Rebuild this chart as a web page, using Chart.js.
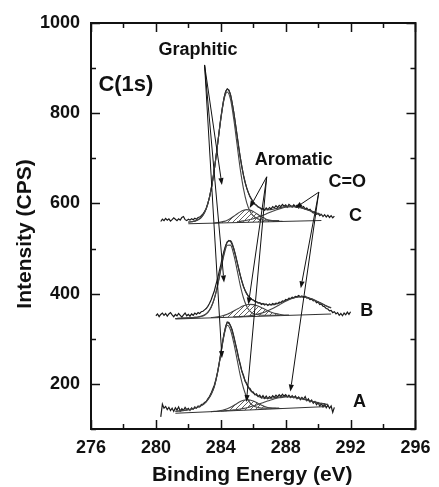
<!DOCTYPE html>
<html>
<head>
<meta charset="utf-8">
<script src="https://cdn.jsdelivr.net/npm/chart.js@4.4.1/dist/chart.umd.min.js"></script>
<style>
  html, body { margin: 0; padding: 0; background: #fff; }
  canvas { display: block; }
</style>
</head>
<body>
<canvas id="xps" width="439" height="487"></canvas>
<script>
// ---- measured C(1s) spectra (binding energy in eV, intensity in CPS) ----
const rawEnergy = [
  280.0,280.1,280.2,280.3,280.4,280.5,280.6,280.7,280.8,280.9,
  281.0,281.1,281.2,281.3,281.4,281.5,281.6,281.7,281.8,281.9,
  282.0,282.1,282.2,282.3,282.4,282.5,282.6,282.7,282.8,282.9,
  283.0,283.1,283.2,283.3,283.4,283.5,283.6,283.7,283.8,283.9,
  284.0,284.1,284.2,284.3,284.4,284.5,284.6,284.7,284.8,284.9,
  285.0,285.1,285.2,285.3,285.4,285.5,285.6,285.7,285.8,285.9,
  286.0,286.1,286.2,286.3,286.4,286.5,286.6,286.7,286.8,286.9,
  287.0,287.1,287.2,287.3,287.4,287.5,287.6,287.7,287.8,287.9,
  288.0,288.1,288.2,288.3,288.4,288.5,288.6,288.7,288.8,288.9,
  289.0,289.1,289.2,289.3,289.4,289.5,289.6,289.7,289.8,289.9,
  290.0,290.1,290.2,290.3,290.4,290.5,290.6,290.7,290.8,290.9,
  291.0,291.1,291.2,291.3,291.4,291.5,291.6,291.7,291.8,291.9,
  292.0
];
const rawC = [
  null,null,null,560,565,562,567,563,566,561,
  564,568,565,562,566,563,569,571,564,562,
  565,563,566,564,567,565,569,570,573,577,
  582,589,600,613,631,651,676,702,731,760,
  789,813,834,848,854,851,841,823,802,777,
  752,726,702,681,662,647,634,624,615,609,
  603,598,596,592,591,587,589,585,590,586,
  591,588,593,590,595,591,596,593,598,594,
  597,592,598,595,592,597,593,596,590,594,
  591,593,588,590,585,587,582,579,581,576,
  578,573,576,571,575,570,574,569,573,568,
  572,null,null,null,null,null,null,null,null,null,
  null
];
const rawB = [
  351,355,349,354,357,352,356,350,355,358,
  353,349,354,351,356,352,348,353,357,351,
  354,350,355,352,357,354,358,356,360,361,
  364,367,372,378,386,396,406,420,433,449,
  464,481,495,507,515,518,516,509,499,486,
  471,456,441,428,416,407,400,394,391,387,
  386,383,382,379,380,376,378,375,377,374,
  377,375,378,376,379,378,381,380,384,383,
  387,386,390,389,392,391,394,393,396,393,
  395,392,394,390,391,387,388,384,385,380,
  381,376,377,372,371,367,366,362,363,358,
  360,355,358,352,356,351,357,353,359,354,
  360
];
const rawA = [
  null,null,null,127,155,146,150,143,148,141,
  146,139,147,142,149,140,145,141,148,143,
  146,141,147,144,149,146,151,149,154,155,
  159,161,167,172,179,188,197,210,226,246,
  268,291,311,327,337,336,329,320,306,290,
  275,257,244,228,219,206,201,192,190,183,
  182,176,178,172,175,169,174,168,173,167,
  172,169,174,170,175,171,176,172,177,173,
  176,171,175,170,174,169,173,167,171,165,
  170,166,172,163,167,160,164,157,161,154,
  158,151,156,149,155,147,153,146,151,137,
  148,null,null,null,null,null,null,null,null,null,
  null
];

// ---- peak-fit curves (envelope and components) ----
const fitEnergy = [
  281.2,281.4,281.6,281.8,282.0,282.2,282.4,282.6,282.8,283.0,
  283.2,283.4,283.6,283.8,284.0,284.2,284.4,284.6,284.8,285.0,
  285.2,285.4,285.6,285.8,286.0,286.2,286.4,286.6,286.8,287.0,
  287.2,287.4,287.6,287.8,288.0,288.2,288.4,288.6,288.8,289.0,
  289.2,289.4,289.6,289.8,290.0,290.2,290.4,290.6,290.8
];
const envC = [
  null,null,null,null,558.5,559.3,560.8,563.9,569.3,580.0,
  599.3,630.5,675.1,730.8,787.9,833.8,853.5,840.8,801.8,751.8,
  702.0,662.3,633.8,615.2,603.3,595.8,590.4,587.3,586.1,586.1,
  587.1,588.6,590.4,591.9,593.2,593.9,594.0,593.4,592.2,590.4,
  588.1,585.7,583.0,580.3,577.6,575.1,null,null,null
];
const graphiticC = [
  null,null,null,null,558.5,559.3,560.8,563.9,569.3,580.0,
  599.2,630.4,674.7,730.0,785.9,830.1,847.1,830.5,786.6,731.1,
  676.1,632.2,601.4,582.5,572.2,567.1,564.4,563.2,562.8,562.4,
  562.2,562.1,562.0,null,null,null,null,null,null,null,
  null,null,null,null,null,null,null,null,null
];
const aromaticC = [
  null,null,null,null,null,null,null,null,null,null,
  null,null,556.8,557.4,558.6,560.3,563.0,566.8,571.5,576.7,
  581.3,584.8,586.2,585.2,582.1,577.7,572.9,568.6,565.2,562.9,
  561.4,560.6,560.4,560.3,null,null,null,null,null,null,
  null,null,null,null,null,null,null,null,null
];
const carbonylC = [
  null,null,null,null,null,null,null,null,null,null,
  null,null,null,null,null,null,null,null,null,559.4,
  560.2,561.3,562.6,564.3,566.2,568.4,570.9,573.7,576.7,579.8,
  582.7,585.5,588.0,590.1,591.6,592.4,592.6,592.1,591.0,589.3,
  587.1,584.7,582.1,579.4,576.8,574.3,null,null,null
];
const envB = [
  345.0,345.2,345.7,346.0,346.4,346.8,347.4,348.2,349.8,352.7,
  358.3,369.8,389.3,418.5,455.0,490.4,514.2,517.5,500.2,471.0,
  440.0,415.5,399.5,390.4,385.4,382.1,379.4,377.3,375.9,375.3,
  375.5,376.9,379.0,381.9,384.8,387.8,390.0,392.2,393.4,393.5,
  392.8,391.1,388.6,385.6,382.3,378.7,375.0,371.7,368.7
];
const graphiticB = [
  345.0,345.2,345.7,346.0,346.4,346.8,347.4,348.2,349.8,352.7,
  358.3,369.3,388.4,416.8,452.1,485.8,507.3,507.5,486.5,453.3,
  418.4,390.4,371.8,361.3,356.1,353.7,352.6,352.2,352.1,352.1,
  352.2,352.3,352.3,null,null,null,null,null,null,null,
  null,null,null,null,null,null,null,null,null
];
const aromaticB = [
  null,null,null,null,null,null,null,null,null,null,
  null,347.0,347.7,348.7,350.1,352.0,354.6,357.9,361.6,365.7,
  369.6,373.0,375.3,376.3,375.8,373.9,371.0,367.5,363.9,360.6,
  357.8,355.7,354.2,353.3,352.7,352.5,null,null,null,null,
  null,null,null,null,null,null,null,null,null
];
const carbonylB = [
  null,null,null,null,null,null,null,null,null,null,
  null,null,null,null,null,null,null,null,348.3,348.8,
  349.2,349.7,350.4,351.4,352.5,353.9,355.8,358.0,360.7,363.8,
  367.3,371.1,375.1,379.2,383.0,386.4,389.2,391.4,392.6,392.8,
  392.1,390.4,388.0,385.0,381.7,378.1,374.5,371.2,368.2
];
const envA = [
  139.2,139.9,140.7,141.7,143.0,144.2,146.4,148.6,151.9,156.9,
  164.8,176.6,194.2,225.3,266.6,310.3,335.8,328.3,303.9,272.5,
  241.2,216.3,198.6,186.9,179.4,174.5,170.9,168.8,168.0,168.1,
  168.7,169.8,170.8,171.4,171.9,171.9,171.5,170.4,169.0,167.4,
  165.5,163.6,161.7,159.9,158.2,156.9,155.7,154.7,null
];
const graphiticA = [
  139.2,139.9,140.7,141.7,143.0,144.2,146.4,148.6,151.9,156.9,
  164.8,176.5,193.9,224.6,264.9,307.0,330.1,319.4,290.8,254.7,
  218.9,190.3,170.3,158.1,151.6,148.5,146.9,146.3,146.2,146.2,
  146.3,146.4,146.5,null,null,null,null,null,null,null,
  null,null,null,null,null,null,null,null,null
];
const aromaticA = [
  null,null,null,null,null,null,null,null,null,null,
  null,138.6,139.1,139.8,140.9,142.6,145.0,148.2,152.2,156.7,
  160.7,163.7,165.0,164.3,162.0,158.6,154.8,151.4,148.8,147.1,
  146.0,145.6,145.5,145.6,null,null,null,null,null,null,
  null,null,null,null,null,null,null,null,null
];
const carbonylA = [
  null,null,null,null,null,null,null,null,null,null,
  null,null,null,null,139.8,140.3,140.9,141.5,142.3,143.3,
  144.4,145.7,147.3,149.1,151.2,153.4,155.8,158.3,160.8,163.4,
  165.6,167.6,169.2,170.2,170.9,170.9,170.5,169.5,168.1,166.5,
  164.7,162.8,160.9,159.1,157.5,156.2,155.0,154.0,null
];

// ---- linear backgrounds (end points) ----
const bgEnergyC = [282.0, 290.2];
const bgC = [555, 562.3];
const bgEnergyB = [281.2, 290.8];
const bgB = [344, 355];
const bgEnergyA = [281.2, 290.6];
const bgA = [135, 150];

// ---- axis ticks ----
const xTickStep = 2, xLabelEvery = 4;
const yTickStep = 100, yLabelEvery = 200;

// ---- annotation texts ----
const peakNames = ['Graphitic', 'Aromatic', 'C=O'];
const sampleNames = ['C', 'B', 'A'];
const coreLevel = 'C(1s)';

// annotation placement in data units (eV, CPS)
const annotationLayout = {
  peakLabel: [[282.6, 940], [288.5, 696], [291.8, 647]],
  arrowFrom: [[283.0, 907], [286.83, 659], [290.04, 625]],
  arrowTo: [
    [[284.07, 641], [284.2, 425], [284.07, 257]],
    [[285.78, 590], [285.7, 376], [285.58, 160]],
    [[288.59, 590], [288.93, 412], [288.29, 183]]
  ],
  sampleLabel: [[292.3, 573], [293.0, 362], [292.55, 159]],
  coreLabel: [278.15, 863]
};

const FONT = "'Liberation Sans', Arial, Helvetica, sans-serif";
const INK = '#111';

function pts(xs, ys) { return xs.map((x, i) => ({ x: x, y: ys[i] })); }

// diagonal hatch for the aromatic component area
function hatchPattern() {
  const c = document.createElement('canvas');
  c.width = 5; c.height = 5;
  const g = c.getContext('2d');
  g.strokeStyle = '#606060';
  g.lineWidth = 1;
  g.beginPath();
  g.moveTo(-1, 6); g.lineTo(6, -1);
  g.moveTo(-3.5, 3.5); g.lineTo(3.5, -3.5);
  g.moveTo(1.5, 8.5); g.lineTo(8.5, 1.5);
  g.stroke();
  return g.createPattern(c, 'repeat');
}
const hatch = hatchPattern();

const datasets = [];
function addSpectrum(raw, env, gr, ar, co, bgE, bg) {
  const bgIndex = datasets.length;
  datasets.push({ data: pts(bgE, bg), borderColor: '#333', borderWidth: 1.1, tension: 0, fill: false });
  datasets.push({ data: pts(fitEnergy, ar), borderColor: '#444', borderWidth: 1.1,
                  cubicInterpolationMode: 'monotone', fill: { target: bgIndex }, backgroundColor: hatch });
  datasets.push({ data: pts(fitEnergy, co), borderColor: '#444', borderWidth: 1.1,
                  cubicInterpolationMode: 'monotone', fill: false });
  datasets.push({ data: pts(fitEnergy, gr), borderColor: '#444', borderWidth: 1.1,
                  cubicInterpolationMode: 'monotone', fill: false });
  datasets.push({ data: pts(fitEnergy, env), borderColor: '#333', borderWidth: 1.1,
                  cubicInterpolationMode: 'monotone', fill: false });
  datasets.push({ data: pts(rawEnergy, raw), borderColor: '#1a1a1a', borderWidth: 1.2, tension: 0, fill: false });
}
addSpectrum(rawC, envC, graphiticC, aromaticC, carbonylC, bgEnergyC, bgC);
addSpectrum(rawB, envB, graphiticB, aromaticB, carbonylB, bgEnergyB, bgB);
addSpectrum(rawA, envA, graphiticA, aromaticA, carbonylA, bgEnergyA, bgA);

// frame with inward ticks on all four sides, plus axis titles
const framePlugin = {
  id: 'frame',
  afterDraw(chart) {
    const { ctx, chartArea: a, scales: { x, y } } = chart;
    ctx.save();
    ctx.strokeStyle = INK;
    ctx.lineWidth = 1.5;
    ctx.beginPath();
    x.ticks.forEach(t => {
      const px = Math.round(x.getPixelForValue(t.value)) + 0.5;
      const len = t.value % xLabelEvery === 0 ? 9 : 5;
      ctx.moveTo(px, a.bottom); ctx.lineTo(px, a.bottom - len);
      ctx.moveTo(px, a.top); ctx.lineTo(px, a.top + len);
    });
    y.ticks.forEach(t => {
      const py = Math.round(y.getPixelForValue(t.value)) + 0.5;
      const len = t.value % yLabelEvery === 0 ? 9 : 5;
      ctx.moveTo(a.left, py); ctx.lineTo(a.left + len, py);
      ctx.moveTo(a.right, py); ctx.lineTo(a.right - len, py);
    });
    ctx.stroke();
    ctx.lineWidth = 2;
    ctx.strokeRect(a.left, a.top, a.right - a.left, a.bottom - a.top);

    ctx.fillStyle = INK;
    ctx.font = 'bold 21px ' + FONT;
    ctx.textAlign = 'center';
    ctx.textBaseline = 'middle';
    ctx.fillText('Binding Energy (eV)', (a.left + a.right) / 2 - 1, 475);
    ctx.translate(25, (a.top + a.bottom) / 2 + 8);
    ctx.rotate(-Math.PI / 2);
    ctx.fillText('Intensity (CPS)', 0, 0);
    ctx.restore();
  }
};

// peak labels with arrows, sample labels and core-level label
const annotatePlugin = {
  id: 'annotate',
  afterDatasetsDraw(chart) {
    const { ctx, scales: { x, y } } = chart;
    const L = annotationLayout;
    const P = p => [x.getPixelForValue(p[0]), y.getPixelForValue(p[1])];
    ctx.save();
    ctx.strokeStyle = INK;
    ctx.fillStyle = INK;
    ctx.lineWidth = 1;
    L.arrowFrom.forEach((from, i) => {
      const [x0, y0] = P(from);
      L.arrowTo[i].forEach(to => {
        const [x1, y1] = P(to);
        const ang = Math.atan2(y1 - y0, x1 - x0);
        const hl = 7, hw = 2.6;
        const bx = x1 - hl * Math.cos(ang), by = y1 - hl * Math.sin(ang);
        ctx.beginPath();
        ctx.moveTo(x0, y0);
        ctx.lineTo(bx, by);
        ctx.stroke();
        ctx.beginPath();
        ctx.moveTo(x1, y1);
        ctx.lineTo(bx + hw * Math.sin(ang), by - hw * Math.cos(ang));
        ctx.lineTo(bx - hw * Math.sin(ang), by + hw * Math.cos(ang));
        ctx.closePath();
        ctx.fill();
      });
    });
    ctx.textAlign = 'center';
    ctx.textBaseline = 'middle';
    ctx.font = 'bold 18px ' + FONT;
    peakNames.forEach((t, i) => { const [px, py] = P(L.peakLabel[i]); ctx.fillText(t, px, py); });
    sampleNames.forEach((t, i) => { const [px, py] = P(L.sampleLabel[i]); ctx.fillText(t, px, py); });
    ctx.font = 'bold 22px ' + FONT;
    const [cx, cy] = P(L.coreLabel);
    ctx.fillText(coreLevel, cx, cy);
    ctx.restore();
  }
};

new Chart(document.getElementById('xps'), {
  type: 'line',
  data: { datasets: datasets },
  options: {
    responsive: false,
    animation: false,
    events: [],
    layout: { padding: { top: 23, right: 16, bottom: 0, left: 0 } },
    elements: { point: { radius: 0 } },
    plugins: { legend: { display: false }, tooltip: { enabled: false } },
    scales: {
      x: {
        type: 'linear', min: 276, max: 296,
        grid: { display: false, drawTicks: false },
        border: { display: false },
        ticks: {
          stepSize: xTickStep, autoSkip: false, maxRotation: 0, padding: 8.5, color: INK,
          font: { family: FONT, size: 18, weight: 'bold' },
          callback: v => (v % xLabelEvery === 0 ? String(v) : '')
        },
        afterFit: s => { s.height = 58; }
      },
      y: {
        type: 'linear', min: 100, max: 1000,
        grid: { display: false, drawTicks: false },
        border: { display: false },
        ticks: {
          stepSize: yTickStep, autoSkip: false, padding: 11, color: INK,
          font: { family: FONT, size: 18, weight: 'bold' },
          callback: v => (v % yLabelEvery === 0 ? String(v) : '')
        },
        afterFit: s => { s.width = 91; }
      }
    }
  },
  plugins: [framePlugin, annotatePlugin]
});
</script>
</body>
</html>
